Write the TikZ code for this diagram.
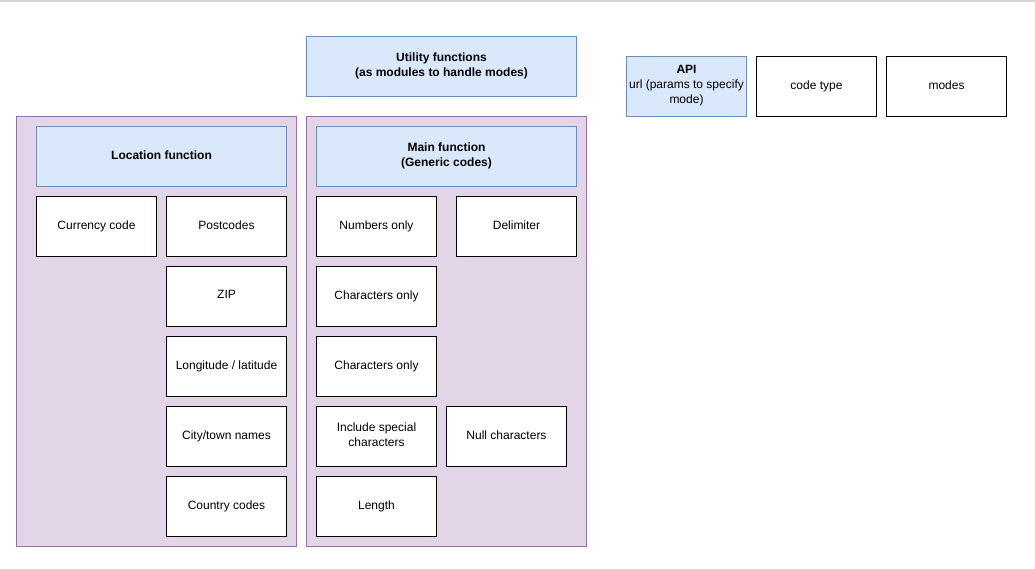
\documentclass[tikz,border=0pt]{standalone}
\usepackage{fontspec}
\setmainfont{Liberation Sans}
\definecolor{bluefill}{HTML}{DAE8FC}
\definecolor{bluedraw}{HTML}{6C8EBF}
\definecolor{purplefill}{HTML}{E1D5E7}
\definecolor{purpledraw}{HTML}{9673A6}
\definecolor{topline}{HTML}{D5D5D5}
\newcommand{\mystrut}{\rule[-3.5pt]{0pt}{11.5pt}}
\tikzset{
  base/.style={draw, line width=1pt, inner sep=0pt, align=center, font=\fontsize{12}{15}\selectfont, anchor=north west,
    execute at begin node=\mystrut, execute at end node=\mystrut},
  whitebox/.style={base, fill=white, draw=black, minimum width=120pt, minimum height=60pt},
  bluebox/.style={base, fill=bluefill, draw=bluedraw, minimum height=60pt},
  container/.style={base, fill=purplefill, draw=purpledraw, minimum width=280pt, minimum height=430pt},
}
\begin{document}
\begin{tikzpicture}[x=1pt,y=-1pt]
\useasboundingbox (0,0) rectangle (1035,569);
\fill[white] (0,0) rectangle (1035,569);
\coordinate (tl) at (0,1);
\coordinate (tr) at (1035,1);
\draw[topline, line width=1.5pt] (tl) -- (tr);

\node[container] (leftc) at (16,116) {};
\node[container] (rightc) at (306,116) {};

\node[bluebox, minimum width=270pt] (util) at (306,36) {\bfseries Utility functions\\\bfseries (as modules to handle modes)};
\node[bluebox, minimum width=250pt] (loc) at (36,126) {\bfseries Location function};
\node[bluebox, minimum width=260pt] (main) at (316,126) {\bfseries Main function\\\bfseries (Generic codes)};

\node[whitebox] (currency) at (36,196) {Currency code};
\node[whitebox] (postcodes) at (166,196) {Postcodes};
\node[whitebox] (zip) at (166,266) {ZIP};
\node[whitebox] (longlat) at (166,336) {Longitude / latitude};
\node[whitebox] (city) at (166,406) {City/town names};
\node[whitebox] (country) at (166,476) {Country codes};

\node[whitebox] (numbers) at (316,196) {Numbers only};
\node[whitebox] (delim) at (456,196) {Delimiter};
\node[whitebox] (chars1) at (316,266) {Characters only};
\node[whitebox] (chars2) at (316,336) {Characters only};
\node[whitebox] (special) at (316,406) {Include special\\characters};
\node[whitebox] (null) at (446,406) {Null characters};
\node[whitebox] (length) at (316,476) {Length};

\node[bluebox, minimum width=120pt] (api) at (626,56) {\bfseries API\\url (params to specify\\mode)};
\node[whitebox] (codetype) at (756,56) {code type};
\node[whitebox] (modes) at (886,56) {modes};
\end{tikzpicture}
\end{document}
